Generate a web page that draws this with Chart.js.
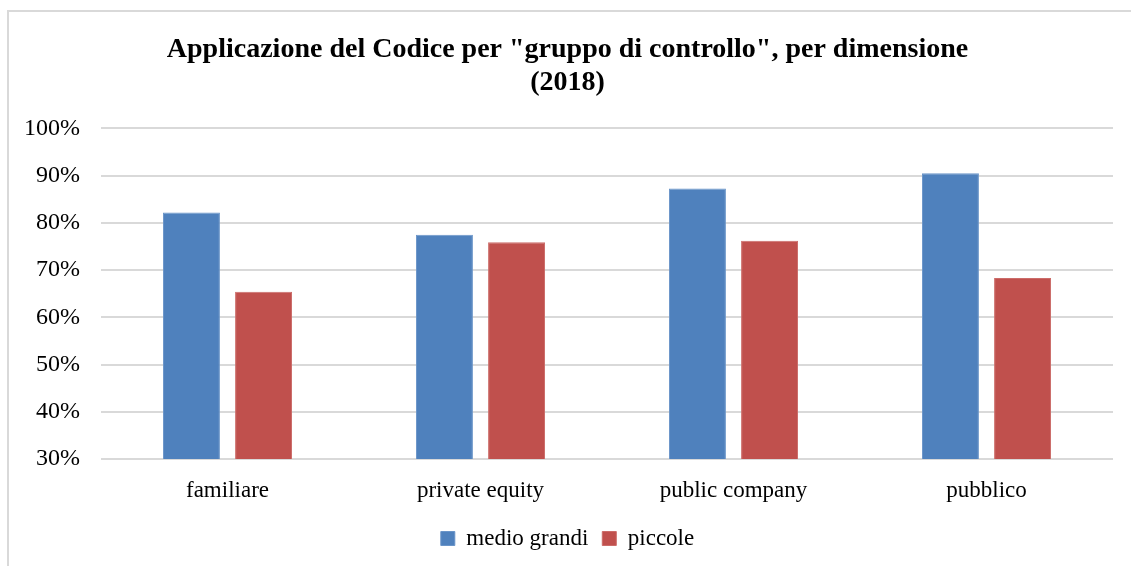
<!DOCTYPE html>
<html>
<head>
<meta charset="utf-8">
<script src="https://cdn.jsdelivr.net/npm/chart.js@4.4.1/dist/chart.umd.min.js"></script>
<style>
    html, body { margin: 0; padding: 0; background: #fff; }
    #wrap { position: relative; width: 1131px; height: 566px; overflow: hidden; }
    #frame { position: absolute; left: 7px; top: 10px; width: 1140px; height: 580px; border: 2px solid #d9d9d9; box-sizing: border-box; }
    #priceChart { position: absolute; left: 0; top: 0; }
</style>
</head>
<body>
<div id="wrap">
    <div id="frame"></div>
    <canvas id="priceChart" width="1131" height="566"></canvas>
</div>
<script>
var categorie = ['familiare', 'private equity', 'public company', 'pubblico'];
var medioGrandi = [82.2, 77.5, 87.3, 90.5];
var piccole = [65.4, 75.9, 76.2, 68.3];
var tickValori = [30, 40, 50, 60, 70, 80, 90, 100];

var fontSerif = "'Liberation Serif', 'Times New Roman', serif";

var ctx = document.getElementById('priceChart').getContext('2d');
var chart = new Chart(ctx, {
    type: 'bar',
    data: {
        labels: categorie,
        datasets: [{
            label: 'medio grandi',
            data: medioGrandi,
            backgroundColor: '#4f81bd',
            borderColor: '#6a95c9',
            borderWidth: 1,
            categoryPercentage: 0.57,
            barPercentage: 0.79
        }, {
            label: 'piccole',
            data: piccole,
            backgroundColor: '#c0504d',
            borderColor: '#cc6c69',
            borderWidth: 1,
            categoryPercentage: 0.57,
            barPercentage: 0.79
        }]
    },
    options: {
        responsive: false,
        animation: false,
        layout: { padding: { left: 22, right: 18, top: 0, bottom: 6 } },
        plugins: {
            title: {
                display: true,
                text: ['Applicazione del Codice per "gruppo di controllo", per dimensione', '(2018)'],
                color: '#000',
                font: { family: fontSerif, size: 28, weight: 'bold', lineHeight: 1.15 },
                padding: { top: 34, bottom: 30 }
            },
            legend: {
                position: 'bottom',
                labels: {
                    color: '#000',
                    font: { family: fontSerif, size: 23 },
                    boxWidth: 14,
                    boxHeight: 14,
                    padding: 14
                }
            },
            tooltip: { enabled: false }
        },
        scales: {
            x: {
                grid: { display: false },
                border: { display: false },
                ticks: { color: '#000', font: { family: fontSerif, size: 23 }, padding: 10 },
                afterFit: function(scale) { scale.height = 54; }
            },
            y: {
                min: 30,
                max: 100,
                afterBuildTicks: function(scale) {
                    scale.ticks = tickValori.map(function(v) { return { value: v }; });
                },
                grid: { color: '#d9d9d9', lineWidth: 2, drawTicks: false },
                border: { display: false },
                ticks: {
                    color: '#000',
                    font: { family: fontSerif, size: 24 },
                    padding: 21,
                    callback: function(v) { return v + '%'; }
                },
                afterFit: function(scale) { scale.width = 79; }
            }
        }
    }
});
</script>
</body>
</html>
